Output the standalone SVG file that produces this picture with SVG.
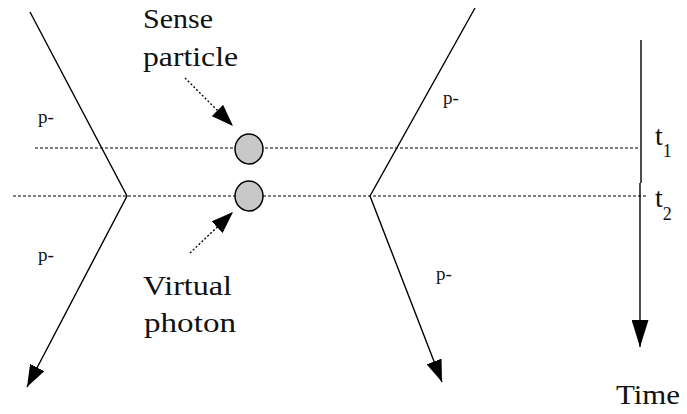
<svg xmlns="http://www.w3.org/2000/svg" width="687" height="414" viewBox="0 0 687 414">
<style>
.ln{stroke:#000;stroke-width:1.4;fill:none}
.dot{stroke:#000;stroke-width:1.2;fill:none;stroke-dasharray:3,2}
.dash{stroke:#000;stroke-width:1.3;fill:none;stroke-dasharray:2,2}
text{font-family:"Times New Roman","Liberation Serif",Tinos,"DejaVu Serif","Noto Serif",serif;fill:#111}
.big{font-size:28px}
.sm{font-size:19px}
.sub{font-size:18px}
.ball{fill:#c8c8c8;stroke:#000;stroke-width:1.5}
</style>
<defs>
<marker id="ah" viewBox="0 0 22 16" refX="22" refY="8" markerWidth="22" markerHeight="16" orient="auto" markerUnits="userSpaceOnUse">
<path d="M0,0 L22,8 L0,16 z" fill="#000"/>
</marker>
<marker id="ah2" viewBox="0 0 27 17" refX="27" refY="8.5" markerWidth="27" markerHeight="17" orient="auto" markerUnits="userSpaceOnUse">
<path d="M0,0 L27,8.5 L0,17 z" fill="#000"/>
</marker>
</defs>
<rect width="687" height="414" fill="#fff"/>
<g id="connectors">
<line class="dot" x1="35" y1="148" x2="640" y2="148"/>
<line class="dot" x1="13" y1="196" x2="647" y2="196"/>
<polyline class="ln" points="30,12 127,196 27,387" marker-end="url(#ah)"/>
<polyline class="ln" points="475,8 370,196 442,382" marker-end="url(#ah)"/>
<line class="ln" x1="641" y1="40" x2="641" y2="183"/>
<line class="ln" x1="640" y1="183" x2="640" y2="347" marker-end="url(#ah2)"/>
<line class="dash" x1="185" y1="78" x2="233" y2="126" marker-end="url(#ah)"/>
<line class="dash" x1="190" y1="253" x2="233" y2="212" marker-end="url(#ah)"/>
</g>
<g id="sense-particle">
<ellipse class="ball" cx="249" cy="149" rx="14" ry="15"/>
</g>
<g id="virtual-photon">
<ellipse class="ball" cx="249" cy="196" rx="14" ry="15"/>
</g>
<g id="label-sense">
<text class="big" x="143" y="28" textLength="70" lengthAdjust="spacingAndGlyphs">Sense</text>
<text class="big" x="143" y="66" textLength="95" lengthAdjust="spacingAndGlyphs">particle</text>
</g>
<g id="label-virtual">
<text class="big" x="143" y="295" textLength="89" lengthAdjust="spacingAndGlyphs">Virtual</text>
<text class="big" x="144" y="332" textLength="92" lengthAdjust="spacingAndGlyphs">photon</text>
</g>
<g id="p-labels">
<text class="sm" x="38" y="123">p-</text>
<text class="sm" x="38" y="261">p-</text>
<text class="sm" x="443" y="104">p-</text>
<text class="sm" x="436" y="280">p-</text>
</g>
<g id="time-labels">
<text class="big" x="655" y="145">t<tspan class="sub" dy="12">1</tspan></text>
<text class="big" x="655" y="207">t<tspan class="sub" dy="13">2</tspan></text>
<text class="big" x="616" y="404" textLength="64" lengthAdjust="spacingAndGlyphs">Time</text>
</g>
</svg>
